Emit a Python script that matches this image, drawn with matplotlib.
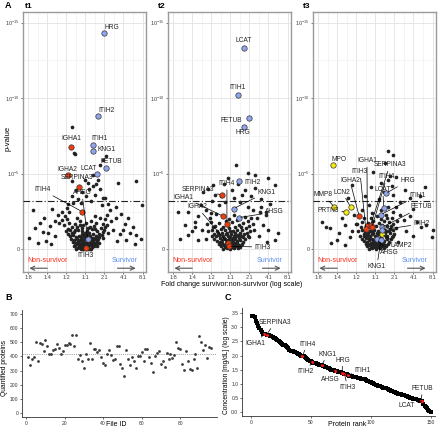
import numpy as np
import matplotlib
matplotlib.use('Agg')
import matplotlib.pyplot as plt

plt.rcParams['font.family'] = 'Liberation Sans'
plt.rcParams['mathtext.fontset'] = 'custom'
plt.rcParams['mathtext.rm'] = 'Liberation Sans'

# ---------------- panel A : volcano data (log2 fold change, -log10 p) ----------------
fc_ticks = [-3, -2, -1, 0, 1, 2, 3]
fc_labels = ['1:8', '1:4', '1:2', '1:1', '2:1', '4:1', '8:1']
p_ticks = [0, 5, 10, 15]
p_labels = ['0', r'$10^{-5}$', r'$10^{-10}$', r'$10^{-15}$']
p_threshold = 3.2

t1_bg = np.array([
    (-2.98, 0.78), (-2.72, 2.6), (-2.63, 1.4), (-2.4, 1.75), (-2.23, 1.15), (-2.16, 2.06), (-1.88, 1.53),
    (-1.76, 2.7), (-1.59, 0.87), (-1.38, 1.71), (-1.24, 2.49), (-0.98, 2.71), (-0.67, 3.04), (-0.72, 3.53),
    (-0.49, 3.9), (0.76, 3.98), (1.02, 3.38), (1.28, 2.6), (1.59, 2.82), (1.71, 4.38), (2.67, 4.49),
    (2.98, 2.93), (2.23, 2.05), (2.49, 1.49), (1.97, 1.31), (1.45, 1.27), (2.67, 0.93), (2.93, 0.71),
    (1.81, 1.0), (-0.72, 4.49), (-0.55, 6.3), (1.1, 6.15), (0.94, 5.9), (0.76, 5.6), (0.39, 4.93),
    (0.68, 4.6), (0.15, 4.38), (-0.03, 4.6), (0.39, 4.2), (-0.69, 8.1), (-0.58, 6.4),
    (-2.05, 0.55), (-1.8, 0.35), (-2.5, 0.45), (-1.95, 1.05), (-1.6, 1.9), (-1.45, 2.3), (-1.2, 1.95),
    (-1.05, 2.2), (-0.85, 2.45), (-0.4, 3.3), (-0.25, 3.05), (0.05, 3.5), (0.3, 3.2), (0.5, 3.6),
    (0.85, 2.9), (1.15, 2.3), (1.35, 1.9), (1.6, 2.1), (1.85, 2.35), (2.1, 1.7), (2.35, 1.1), (2.15, 0.6),
    (1.65, 0.55), (2.6, 0.35), (0.2, 4.0), (0.55, 4.3), (-0.2, 3.8), (0.9, 3.4), (1.2, 3.0), (-0.9, 3.0),
    (-0.45, 0.1), (-0.35, 0.2), (-0.25, 0.05), (-0.15, 0.15), (-0.05, 0.25), (0.05, 0.1), (0.15, 0.2),
    (0.25, 0.05), (0.35, 0.15), (0.45, 0.25), (-0.3, 0.3), (-0.1, 0.05), (0.1, 0.3), (0.3, 0.35), (0.0, 0.4),
    (0.2, 0.45), (-0.2, 0.4), (-0.55, 0.3), (0.55, 0.35), (-0.65, 0.5), (-0.5, 0.45), (-0.4, 0.55),
    (-0.3, 0.6), (-0.2, 0.7), (-0.1, 0.55), (0.0, 0.65), (0.1, 0.5), (0.2, 0.75), (0.3, 0.6), (0.4, 0.5),
    (0.5, 0.65), (0.6, 0.55), (0.7, 0.45), (-0.75, 0.65), (-0.8, 0.85), (-0.65, 0.95), (-0.5, 0.8),
    (-0.35, 0.9), (-0.2, 1.0), (-0.05, 0.85), (0.1, 0.95), (0.25, 0.85), (0.4, 1.0), (0.55, 0.9),
    (0.7, 0.8), (0.85, 0.95), (-0.9, 1.0), (0.95, 0.75), (-1.0, 1.2), (-0.8, 1.3), (-0.6, 1.15),
    (-0.4, 1.25), (-0.15, 1.4), (0.1, 1.2), (0.35, 1.35), (0.6, 1.2), (0.8, 1.4), (1.0, 1.25), (1.2, 1.1),
    (-0.7, 1.45), (0.45, 1.55), (-0.3, 1.6), (-1.1, 1.6), (-0.85, 1.75), (-0.55, 1.7), (-0.3, 1.9),
    (0.3, 1.85), (0.55, 1.75), (0.9, 1.7), (1.15, 1.6), (-0.95, 2.0), (0.75, 2.05), (0.05, 1.75),
    (-0.45, 2.1), (0.5, 2.2), (1.05, 2.0), (-0.12, 0.02), (0.08, 0.18), (-0.28, 0.12), (0.32, 0.03),
    (0.18, 0.55), (-0.38, 0.35), (0.42, 0.4), (-0.6, 0.2), (0.62, 0.2), (-0.02, 1.1), (0.2, 1.05),
    (-0.45, 0.7), (0.5, 0.75), (-0.5, 0.05), (-0.4, 0.4), (-0.2, 0.25), (0.0, 0.15), (0.12, 0.05),
    (0.22, 0.3), (0.38, 0.28), (0.5, 0.45), (-0.6, 0.6), (-0.25, 0.8), (0.05, 0.75), (0.35, 0.75),
    (0.65, 0.7), (-0.7, 1.1), (-0.45, 1.45), (-0.2, 1.2), (0.25, 1.5), (0.5, 1.35), (0.7, 1.0),
    (-0.1, 1.6), (0.15, 1.4), (-0.55, 1.3), (0.9, 1.15), (-0.35, 0.45), (0.28, 0.55), (-0.08, 0.38),
    (0.0, 0.95), (-0.9, 1.35), (1.05, 1.45), (0.4, 0.7)])

t2_bg = np.array([
    (0.32, 5.6), (0.93, 5.05), (1.31, 4.93), (2.32, 4.27), (1.97, 4.7), (-0.89, 4.27), (-1.15, 4.0),
    (-1.41, 3.8), (-2.72, 2.49), (-2.2, 2.49), (-1.85, 1.82), (-1.88, 1.49), (-2.63, 0.71), (-2.23, 0.93),
    (-1.71, 0.6), (1.63, 2.82), (1.89, 2.49), (1.55, 2.49), (1.89, 2.27), (2.35, 0.6), (1.28, 4.05),
    (0.76, 3.95), (1.1, 3.5), (0.6, 3.6), (-0.35, 4.3), (-0.78, 3.6), (-0.96, 3.2), (-1.56, 2.9), (-1.7, 2.2),
    (-1.3, 2.6), (-1.0, 2.4), (-0.6, 2.9), (-0.3, 3.1), (0.2, 3.4), (0.5, 3.1), (0.9, 2.8), (1.2, 2.6),
    (1.4, 2.1), (1.7, 1.6), (2.0, 1.3), (2.5, 1.1), (-2.4, 1.6), (-2.0, 1.2), (-1.5, 1.3), (-1.3, 0.7),
    (1.5, 0.9), (1.9, 0.5), (-0.5, 3.5), (0.1, 3.9), (0.4, 4.3), (-0.1, 4.7), (1.6, 3.3), (2.1, 3.0),
    (-0.4, 0.05), (-0.3, 0.15), (-0.2, 0.1), (-0.1, 0.2), (0.0, 0.05), (0.1, 0.15), (0.2, 0.1), (0.3, 0.2),
    (0.4, 0.1), (-0.35, 0.3), (-0.15, 0.35), (0.05, 0.3), (0.25, 0.35), (0.45, 0.3), (-0.5, 0.2),
    (0.5, 0.15), (-0.05, 0.45), (0.15, 0.5), (-0.7, 0.55), (-0.55, 0.5), (-0.45, 0.6), (-0.3, 0.65),
    (-0.2, 0.55), (-0.05, 0.7), (0.1, 0.6), (0.25, 0.7), (0.35, 0.55), (0.5, 0.6), (0.65, 0.5), (0.75, 0.65),
    (-0.85, 0.7), (-0.95, 0.9), (-0.75, 0.85), (-0.6, 0.95), (-0.4, 0.85), (-0.25, 1.0), (-0.1, 0.9),
    (0.05, 1.0), (0.2, 0.85), (0.4, 0.95), (0.55, 0.85), (0.7, 1.0), (0.9, 0.9), (1.0, 0.8), (-1.15, 1.2),
    (-0.95, 1.3), (-0.7, 1.2), (-0.5, 1.35), (-0.3, 1.25), (-0.05, 1.4), (0.15, 1.2), (0.35, 1.3),
    (0.6, 1.25), (0.8, 1.4), (1.05, 1.2), (1.25, 1.3), (-0.8, 1.55), (0.45, 1.6), (-1.25, 1.7), (-1.0, 1.8),
    (-0.6, 1.75), (-0.25, 1.9), (0.1, 1.8), (0.35, 1.95), (0.65, 1.75), (0.95, 1.85), (1.2, 1.65),
    (-1.05, 2.1), (-0.4, 2.2), (0.2, 2.3), (0.75, 2.15), (1.1, 2.05), (-0.75, 2.35), (-0.12, 0.25),
    (0.08, 0.4), (-0.25, 0.45), (0.3, 0.45), (-0.6, 0.35), (0.6, 0.35), (0.0, 0.8), (-0.15, 1.1),
    (0.25, 1.05), (-0.45, 1.05), (0.5, 1.1), (-0.45, 0.4), (-0.25, 0.2), (0.05, 0.15), (0.18, 0.28),
    (0.35, 0.4), (-0.1, 0.6), (0.15, 0.75), (0.45, 0.75), (-0.35, 0.75), (-0.65, 1.05), (-0.4, 1.5),
    (-0.15, 1.6), (0.25, 1.5), (0.55, 1.45), (0.85, 1.1), (-0.85, 1.0), (0.0, 1.2), (0.3, 0.85),
    (-0.55, 0.75), (0.65, 0.8), (-0.2, 0.3), (0.12, 0.45), (-0.9, 1.45), (1.0, 1.55), (-0.05, 2.0)])

t3_bg = np.array([
    (0.67, 6.49), (0.93, 6.27), (0.5, 5.7), (0.76, 4.85), (0.68, 4.6), (2.58, 4.15), (2.32, 3.5),
    (1.8, 3.4), (1.55, 3.9), (1.1, 4.8), (-0.1, 5.1), (-1.24, 4.27), (-1.41, 3.38), (-1.76, 2.05),
    (-2.37, 1.38), (-2.6, 1.5), (-2.8, 1.84), (-2.02, 0.6), (-1.33, 0.82), (-0.98, 1.7), (2.41, 1.5),
    (2.67, 1.6), (3.0, 1.3), (2.95, 0.8), (1.5, 1.95), (1.8, 2.2), (1.1, 2.8), (-0.35, 2.9), (-0.55, 3.5),
    (-1.9, 1.1), (-1.6, 1.6), (-1.1, 2.3), (-0.7, 2.6), (0.2, 3.3), (0.45, 3.8), (0.9, 3.6), (1.3, 3.1),
    (1.3, 2.3), (1.6, 1.2), (2.0, 0.9), (2.2, 1.8), (-2.3, 0.4), (-1.6, 0.3), (1.2, 0.5), (0.85, 4.2),
    (0.3, 4.4), (-0.25, 4.1), (2.0, 2.7), (-1.2, 1.2),
    (-0.35, 0.05), (-0.25, 0.15), (-0.15, 0.1), (-0.05, 0.2), (0.05, 0.05), (0.15, 0.15), (0.25, 0.1),
    (0.35, 0.2), (0.45, 0.1), (-0.3, 0.3), (-0.1, 0.35), (0.1, 0.3), (0.3, 0.35), (0.5, 0.3), (-0.45, 0.2),
    (0.55, 0.2), (0.0, 0.45), (0.2, 0.5), (-0.6, 0.55), (-0.45, 0.5), (-0.35, 0.6), (-0.2, 0.65),
    (-0.1, 0.55), (0.05, 0.7), (0.2, 0.6), (0.3, 0.75), (0.45, 0.55), (0.6, 0.65), (0.7, 0.5), (0.8, 0.7),
    (-0.7, 0.7), (-0.8, 0.9), (-0.6, 0.85), (-0.45, 0.95), (-0.3, 0.85), (-0.15, 1.0), (0.0, 0.9),
    (0.15, 1.0), (0.3, 0.9), (0.45, 1.0), (0.6, 0.9), (0.75, 1.05), (0.9, 0.9), (1.0, 1.0), (-0.9, 1.2),
    (-0.7, 1.3), (-0.55, 1.15), (-0.3, 1.2), (-0.05, 1.3), (0.15, 1.2), (0.35, 1.35), (0.55, 1.2),
    (0.75, 1.35), (0.95, 1.25), (1.1, 1.4), (-0.75, 1.5), (0.6, 1.55), (-1.0, 1.7), (-0.7, 1.8),
    (-0.4, 1.75), (-0.1, 1.9), (0.2, 1.75), (0.45, 1.85), (0.7, 1.8), (0.95, 1.7), (1.15, 1.9),
    (-0.6, 2.1), (0.1, 2.2), (0.55, 2.3), (0.85, 2.1), (0.3, 2.6), (0.65, 2.8), (0.9, 2.5), (-0.2, 2.4),
    (-0.12, 0.25), (0.08, 0.4), (-0.22, 0.45), (0.38, 0.45), (-0.5, 0.35), (0.65, 0.35), (0.1, 0.8),
    (-0.1, 1.1), (0.25, 1.1), (-0.4, 1.05), (0.5, 1.1), (-0.4, 0.35), (-0.2, 0.25), (0.0, 0.15),
    (0.2, 0.3), (0.4, 0.3), (-0.05, 0.6), (0.25, 0.65), (0.55, 0.8), (-0.35, 0.75), (-0.6, 1.0),
    (-0.3, 1.5), (0.05, 1.55), (0.35, 1.6), (0.8, 1.55), (0.7, 1.2), (-0.2, 1.2), (0.45, 1.25),
    (0.1, 1.05), (-0.5, 0.75), (0.85, 0.8), (0.3, 2.0), (0.6, 2.05), (-0.25, 2.05)])

# highlighted proteins: name, log2 fc, -log10 p, group
t1_hits = [('HRG', 0.96, 14.3, 'blue'), ('ITIH2', 0.65, 8.8, 'blue'), ('ITIH1', 0.39, 6.9, 'blue'),
           ('KNG1', 0.39, 6.5, 'blue'), ('IGHA1', -0.75, 6.8, 'red'), ('FETUB', 1.07, 5.4, 'blue'),
           ('LCAT', 0.6, 5.0, 'blue'), ('IGHA2', -0.9, 4.9, 'red'), ('SERPINA3', -0.35, 4.1, 'red'),
           ('ITIH4', -0.18, 2.5, 'red'), ('AHSG', 0.13, 0.67, 'blue'), ('ITIH3', 0.03, 0.07, 'red')]
t2_hits = [('LCAT', 0.7, 13.3, 'blue'), ('ITIH1', 0.39, 10.2, 'blue'), ('FETUB', 0.96, 8.7, 'blue'),
           ('HRG', 0.7, 8.1, 'blue'), ('ITIH2', 0.44, 4.5, 'blue'), ('SERPINA3', -0.44, 3.6, 'red'),
           ('KNG1', 0.18, 2.7, 'blue'), ('IGHA1', -0.39, 2.2, 'red'), ('AHSG', 0.44, 2.1, 'blue'),
           ('ITIH4', -0.18, 1.7, 'red'), ('IGHA2', -0.13, 0.4, 'red'), ('ITIH3', -0.08, 0.2, 'red')]
t3_hits = [('MPO', -2.2, 5.6, 'yellow'), ('MMP8', -2.15, 2.8, 'yellow'), ('PRTN3', -1.55, 2.5, 'yellow'),
           ('LCN2', -1.3, 2.8, 'yellow'), ('LAMP2', 0.34, 1.0, 'yellow'), ('IGHA2', -0.85, 2.2, 'red'),
           ('IGHA1', -0.42, 1.55, 'red'), ('SERPINA3', -0.25, 1.6, 'red'), ('ITIH3', -0.5, 1.35, 'red'),
           ('ITIH4', -0.18, 1.45, 'red'), ('HRG', 0.55, 3.7, 'blue'), ('LCAT', 0.44, 2.75, 'blue'),
           ('ITIH1', 0.29, 2.3, 'blue'), ('FETUB', 0.34, 1.45, 'blue'), ('ITIH2', 0.37, 1.3, 'blue'),
           ('AHSG', 0.07, 0.65, 'blue'), ('KNG1', 0.29, 0.6, 'blue')]

# label placement (data coords) and which labels get a leader line
t1_lab = {'HRG': (1.38, 14.66), 'ITIH2': (1.12, 9.16), 'ITIH1': (0.76, 7.3), 'KNG1': (1.12, 6.58),
          'IGHA1': (-0.72, 7.3), 'FETUB': (1.38, 5.8), 'LCAT': (0.18, 5.32), 'IGHA2': (-0.96, 5.3),
          'SERPINA3': (-0.44, 4.72), 'ITIH4': (-2.27, 3.93), 'AHSG': (-0.18, 3.73), 'ITIH3': (0.03, -0.42)}
t1_lines = ['ITIH4', 'AHSG']
t2_lab = {'LCAT': (0.70, 13.8), 'ITIH1': (0.39, 10.7), 'FETUB': (0.03, 8.5), 'HRG': (0.65, 7.75),
          'ITIH4': (-0.18, 4.35), 'ITIH2': (1.15, 4.45), 'SERPINA3': (-1.69, 3.93), 'KNG1': (1.9, 3.79),
          'IGHA1': (-2.47, 3.46), 'IGHA2': (-1.74, 2.8), 'AHSG': (2.32, 2.47), 'ITIH3': (1.69, 0.15)}
t2_lines = ['ITIH4', 'SERPINA3', 'KNG1', 'IGHA1', 'IGHA2', 'AHSG', 'ITIH3']
t3_lab = {'MPO': (-1.9, 5.95), 'IGHA1': (-0.44, 5.85), 'SERPINA3': (0.76, 5.58), 'ITIH3': (-0.81, 5.12),
          'ITIH4': (0.6, 4.79), 'IGHA2': (-1.33, 4.52), 'HRG': (1.69, 4.52), 'LCN2': (-1.74, 3.79),
          'ITIH1': (2.21, 3.53), 'MMP8': (-2.73, 3.6), 'LCAT': (0.39, 3.93), 'FETUB': (2.42, 2.8),
          'PRTN3': (-2.47, 2.54), 'ITIH2': (2.42, 1.68), 'LAMP2': (1.38, 0.22), 'AHSG': (0.76, -0.18),
          'KNG1': (0.08, -1.11)}
t3_lines = ['IGHA1', 'SERPINA3', 'ITIH3', 'ITIH4', 'IGHA2', 'HRG', 'LCN2', 'ITIH1', 'MMP8', 'LCAT',
            'FETUB', 'PRTN3', 'ITIH2', 'LAMP2', 'AHSG', 'KNG1']

# ---------------- panel B : quantified proteins per file ----------------
file_id = np.arange(1, 97)
quantified = [393, 338, 383, 398, 500, 367, 498, 486, 436, 519, 474, 419, 419, 445, 452, 486, 460, 417,
              436, 481, 479, 493, 490, 550, 476, 550, 381, 410, 367, 321, 417, 383, 493, 383, 455, 450,
              431, 443, 395, 352, 340, 417, 448, 410, 374, 379, 476, 474, 350, 321, 260, 443, 379, 338,
              393, 367, 321, 402, 402, 431, 369, 450, 452, 393, 357, 293, 402, 426, 438, 343, 371, 326,
              426, 383, 419, 386, 412, 500, 457, 450, 350, 307, 438, 369, 314, 307, 381, 421, 321, 545,
              505, 445, 481, 390, 469, 457]

# ---------------- panel C : concentration by rank ----------------
conc = [3.42, 3.40, 3.38, 3.22, 3.15, 3.05, 2.97, 2.90, 2.83, 2.78,
        2.76, 2.75, 2.74, 2.73, 2.72, 2.70, 2.68, 2.66, 2.64, 2.62,
        2.60, 2.57, 2.53, 2.49, 2.45, 2.42, 2.39, 2.36, 2.33, 2.30,
        2.26, 2.21, 2.17, 2.16, 2.15, 2.13, 2.11, 2.08, 2.06, 2.04,
        2.02, 2.00, 1.99, 1.97, 1.94, 1.91, 1.88, 1.85, 1.82, 1.79,
        1.76, 1.74, 1.73, 1.72, 1.71, 1.70, 1.68, 1.66, 1.65, 1.64,
        1.62, 1.60, 1.58, 1.56, 1.54, 1.52, 1.50, 1.49, 1.48, 1.46,
        1.45, 1.44, 1.43, 1.42, 1.40, 1.39, 1.37, 1.36, 1.34, 1.33,
        1.31, 1.29, 1.27, 1.26, 1.25, 1.24, 1.23, 1.22, 1.21, 1.20,
        1.19, 1.18, 1.17, 1.16, 1.15, 1.13, 1.11, 1.09, 1.07, 1.05,
        1.03, 1.01, 0.99, 0.97, 0.95, 0.93, 0.91, 0.90, 0.88, 0.86,
        0.85, 0.84, 0.83, 0.81, 0.79, 0.77, 0.75, 0.73, 0.71, 0.69,
        0.67, 0.66, 0.65, 0.63, 0.62, 0.61, 0.59, 0.58, 0.57, 0.55,
        0.53, 0.51, 0.50, 0.48, 0.47, 0.46, 0.45, 0.44, 0.42, 0.41,
        0.40, 0.39, 0.37, 0.27, 0.22, 0.17, 0.12, 0.08, 0.04, 0.01]
rank = np.arange(1, len(conc) + 1)
c_names = ['IGHA1', 'SERPINA3', 'ITIH4', 'ITIH2', 'KNG1', 'AHSG', 'HRG', 'ITIH3', 'ITIH1', 'FETUB', 'LCAT']
c_ranks = [11, 13, 43, 51, 59, 70, 76, 78, 81, 142, 143]
c_lab = {'IGHA1': (3.6, 2.43), 'SERPINA3': (20, 3.18), 'ITIH4': (47, 2.41), 'ITIH2': (45.8, 1.42),
         'KNG1': (63.9, 2.05), 'AHSG': (66.1, 1.16), 'HRG': (76.7, 1.84), 'ITIH3': (80.6, 0.87),
         'ITIH1': (93.3, 1.48), 'FETUB': (143.3, 0.83), 'LCAT': (130, 0.24)}

colors = {'red': '#f03c0c', 'blue': '#8fa6ee', 'yellow': '#f5ea14'}

W, H = 440, 429
fig = plt.figure(figsize=(W / 100, H / 100), dpi=100)


def fpos(left, top, right, bottom):
    return [left / W, 1 - bottom / H, (right - left) / W, (bottom - top) / H]


def volcano(ax, bg, hits, labs, lines):
    ax.set_xlim(-3.27, 3.18)
    ax.set_ylim(-1.5, 15.7)
    ax.set_xticks(fc_ticks)
    ax.set_xticklabels(fc_labels)
    ax.set_xticks(np.arange(-3, 3.01, 0.5), minor=True)
    ax.set_yticks(p_ticks)
    ax.set_yticklabels(p_labels)
    ax.set_yticks(np.arange(0, 15.1, 2.5), minor=True)
    ax.grid(True, which='major', color='#e6e6e6', lw=0.7)
    ax.grid(True, which='minor', color='#f0f0f0', lw=0.5)
    ax.set_axisbelow(True)
    ax.tick_params(which='major', labelsize=4, length=1.5, width=0.5, color='#444', labelcolor='#444', pad=1)
    ax.tick_params(which='minor', length=0)
    for s in ax.spines.values():
        s.set_color('#9a9a9a')
        s.set_linewidth(1.0)
    ax.axhline(p_threshold, color='#222', lw=0.8, ls=(0, (6, 2, 1, 2)), zorder=3)
    ax.scatter(bg[:, 0], bg[:, 1], s=7, c='#222222', lw=0, zorder=2)
    pts = {}
    for name, x, y, g in hits:
        pts[name] = (x, y)
        ax.scatter(x, y, s=15, c=colors[g], edgecolors='#333', linewidths=0.5, zorder=4)
    for name, (lx, ly) in labs.items():
        ap = None
        if name in lines:
            ap = dict(arrowstyle='-', color='black', lw=0.5, shrinkA=0, shrinkB=1.5)
        ax.annotate(name, pts[name], xytext=(lx, ly), fontsize=4.8, ha='center', va='center',
                    color='#222', arrowprops=ap, zorder=5)
    ax.text(-3.05, -0.72, 'Non-survivor', color='#ff2a1a', fontsize=5, ha='left', va='center')
    ax.text(2.75, -0.72, 'Survivor', color='#5b8ff0', fontsize=5, ha='right', va='center')
    ax.annotate('', xy=(-3.08, -1.25), xytext=(-1.85, -1.25),
                arrowprops=dict(arrowstyle='->,head_length=0.3,head_width=0.15', color='#555', lw=0.8))
    ax.annotate('', xy=(2.78, -1.25), xytext=(1.54, -1.25),
                arrowprops=dict(arrowstyle='->,head_length=0.3,head_width=0.15', color='#555', lw=0.8))


ax1 = fig.add_axes(fpos(23, 12, 146, 272))
ax2 = fig.add_axes(fpos(168, 12, 291, 272))
ax3 = fig.add_axes(fpos(313, 12, 436, 272))
volcano(ax1, t1_bg, t1_hits, t1_lab, t1_lines)
volcano(ax2, t2_bg, t2_hits, t2_lab, t2_lines)
volcano(ax3, t3_bg, t3_hits, t3_lab, t3_lines)

fig.text(5 / W, 1 - 6 / H, 'A', fontsize=6.5, weight='bold', va='center')
fig.text(25 / W, 1 - 6 / H, 't1', fontsize=6, weight='bold', va='center')
fig.text(158 / W, 1 - 6 / H, 't2', fontsize=6, weight='bold', va='center')
fig.text(303 / W, 1 - 6 / H, 't3', fontsize=6, weight='bold', va='center')
fig.text(8 / W, 1 - 138 / H, 'p-value', fontsize=5.5, rotation=90, ha='center', va='center')
fig.text(232 / W, 1 - 284 / H, 'Fold change survivor:non-survivor (log scale)', fontsize=5,
         ha='center', va='center')

# panel B
axb = fig.add_axes(fpos(22, 310, 217, 417))
axb.scatter(file_id, quantified, s=4, c='#3a3a3a', lw=0, zorder=3)
axb.axhline(np.mean(quantified), color='#999', lw=0.7, ls=(0, (1, 1.2)), zorder=2)
axb.set_xlim(-2.2, 99.2)
axb.set_ylim(-31, 731)
axb.set_xticks([0, 20, 40, 60, 80])
axb.set_yticks(range(0, 701, 100))
fig.text(5 / W, 1 - 297 / H, 'B', fontsize=6.5, weight='bold', va='center')
fig.text(5 / W, 1 - 368 / H, 'Quantified proteins', fontsize=4.8, rotation=90, ha='center', va='center')
fig.text(116 / W, 1 - 425 / H, 'File ID', fontsize=5, ha='center', va='center')

# panel C
axc = fig.add_axes(fpos(242, 308, 435, 416))
axc.plot(rank, conc, 's', ms=2.6, color='black', mew=0, zorder=2)
for name, r in zip(c_names, c_ranks):
    y = conc[r - 1]
    axc.plot(r, y, 'o', ms=2.2, color='#ff1a1a', mew=0, zorder=4)
    axc.annotate(name, (r, y), xytext=c_lab[name], fontsize=4.8, ha='center', va='center', color='#222',
                 arrowprops=dict(arrowstyle='-', color='black', lw=0.5, shrinkA=0, shrinkB=0.5), zorder=5)
axc.set_xlim(-7.5, 153.6)
axc.set_ylim(-0.15, 3.69)
axc.set_xticks([0, 50, 100, 150])
axc.set_yticks(np.arange(0, 3.51, 0.5))
axc.set_yticklabels(['0.0', '0.5', '1.0', '1.5', '2.0', '2.5', '3.0', '3.5'])
fig.text(225 / W, 1 - 297 / H, 'C', fontsize=6.5, weight='bold', va='center')
fig.text(227 / W, 1 - 365 / H, 'Concentration [mg/dL] (log scale)', fontsize=4.8, rotation=90,
         ha='center', va='center')
fig.text(347 / W, 1 - 425 / H, 'Protein rank', fontsize=5, ha='center', va='center')

for ax in (axb, axc):
    ax.spines['top'].set_visible(False)
    ax.spines['right'].set_visible(False)
    for s in ('left', 'bottom'):
        ax.spines[s].set_color('#333')
        ax.spines[s].set_linewidth(0.6)
    ax.tick_params(labelsize=3.6, length=1.5, width=0.5, color='#333', labelcolor='#333', pad=1.2)

fig.savefig('out.png', dpi=100)
